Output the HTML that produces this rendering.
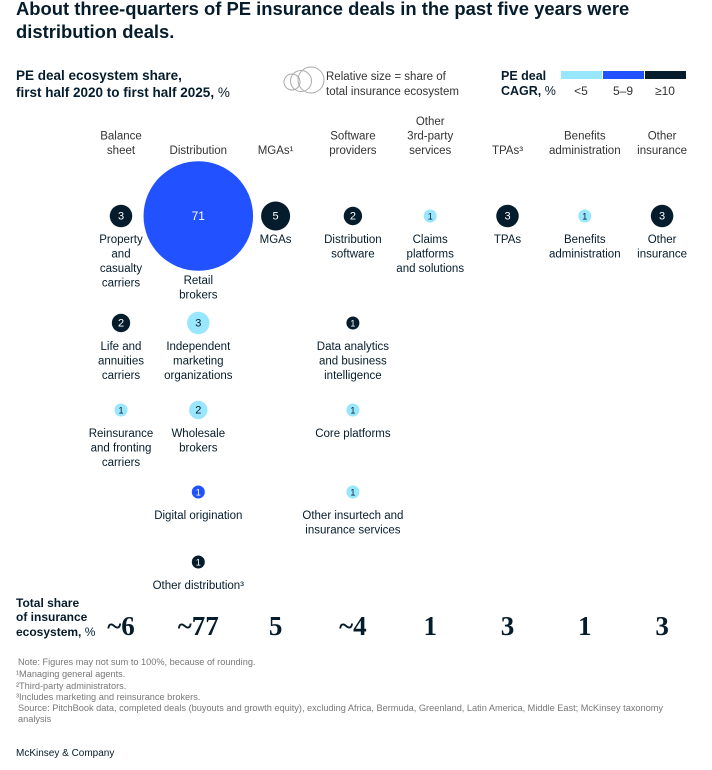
<!DOCTYPE html>
<html><head><meta charset="utf-8"><style>
body{margin:0;background:#fff;width:712px;height:765px;overflow:hidden;font-family:"Liberation Sans",sans-serif;color:#051c2c}
svg text{font-family:"Liberation Sans",sans-serif}
svg text.serif{font-family:"Liberation Serif",serif}
</style></head><body>
<svg id="c" width="712" height="765">
<text x="16" y="15" font-size="18.4" font-weight="bold" fill="#051c2c"><tspan x="16" y="15">About three-quarters of PE insurance deals in the past five years were</tspan><tspan x="16" y="38">distribution deals.</tspan></text>
<text font-size="13.5" fill="#051c2c"><tspan x="16" y="80" font-weight="bold">PE deal ecosystem share,</tspan><tspan x="16" y="97" font-weight="bold">first half 2020 to first half 2025, </tspan><tspan>%</tspan></text>
<g fill="none" stroke="#aaa">
<circle cx="292" cy="82" r="8"/><circle cx="301" cy="81" r="10.5"/><circle cx="311" cy="80" r="13"/>
</g>
<text font-size="11.5" fill="#333"><tspan x="326" y="80">Relative size = share of</tspan><tspan x="326" y="95">total insurance ecosystem</tspan></text>
<text font-size="12.5" fill="#051c2c"><tspan x="501" y="80" font-weight="bold">PE deal</tspan><tspan x="501" y="95" font-weight="bold">CAGR, </tspan><tspan>%</tspan></text>
<g id="legend"></g>
<g id="heads"></g><g id="nodes"></g><g id="totals"></g>
<text font-size="12" font-weight="bold" fill="#051c2c"><tspan x="16" y="607">Total share</tspan><tspan x="16" y="621">of insurance</tspan><tspan x="16" y="636">ecosystem, </tspan><tspan font-weight="normal">%</tspan></text>
<g font-size="9.2" fill="#777">
<text x="18" y="665">Note: Figures may not sum to 100%, because of rounding.</text>
<text x="16" y="677">¹Managing general agents.</text>
<text x="16" y="689">²Third-party administrators.</text>
<text x="16" y="700">³Includes marketing and reinsurance brokers.</text>
<text x="18" y="711">Source: PitchBook data, completed deals (buyouts and growth equity), excluding Africa, Bermuda, Greenland, Latin America, Middle East; McKinsey taxonomy</text>
<text x="18" y="722">analysis</text>
</g>
<text x="16" y="756" font-size="10" fill="#051c2c">McKinsey &amp; Company</text>
</svg>
<script>
const columns=[["Balance","sheet"],["Distribution"],["MGAs¹"],["Software","providers"],["Other","3rd-party","services"],["TPAs³"],["Benefits","administration"],["Other","insurance"]];
const totals=["~6","~77","5","~4","1","3","1","3"];
const nodeCols=[0,1,2,3,4,5,6,7,0,1,3,0,1,3,1,3,1];
const nodeRows=[0,0,0,0,0,0,0,0,1,1,1,2,2,2,3,3,4];
const nodeValues=[3,71,5,2,1,3,1,3,2,3,1,1,2,1,1,1,1];
const nodeCagr=[2,1,2,2,0,2,0,2,2,0,2,0,0,0,1,0,2];
const nodeLabels=[["Property","and","casualty","carriers"],["Retail","brokers"],["MGAs"],["Distribution","software"],["Claims","platforms","and solutions"],["TPAs"],["Benefits","administration"],["Other","insurance"],["Life and","annuities","carriers"],["Independent","marketing","organizations"],["Data analytics","and business","intelligence"],["Reinsurance","and fronting","carriers"],["Wholesale","brokers"],["Core platforms"],["Digital origination"],["Other insurtech and","insurance services"],["Other distribution³"]];
const cagrLabels=["<5","5–9","≥10"];
const colors=["#99e6ff","#2251ff","#051c2c"];
const NS="http://www.w3.org/2000/svg";
const xCol=i=>121+i*77.3;
const yRow=[216,323,410,492,562];
const rad=v=>6.5*Math.sqrt(v);
function mk(t,a,p){const e=document.createElementNS(NS,t);for(const k in a)e.setAttribute(k,a[k]);p.appendChild(e);return e;}
const lg=document.getElementById('legend');
cagrLabels.forEach((l,i)=>{
 const r=mk('rect',{x:561+i*42,y:71,width:41,height:8,fill:colors[i]},lg);
 
 
 const t=mk('text',{x:581+i*42,y:95,'font-size':12,'text-anchor':'middle',fill:'#333'},lg);t.textContent=l;
 
 
});
const hg=document.getElementById('heads');
columns.forEach((c,i)=>{
 const t=mk('text',{'font-size':11.5,'text-anchor':'middle',fill:'#333'},hg);
 
 
 c.forEach((l,j)=>{const s=mk('tspan',{x:xCol(i),y:154-(c.length-1-j)*14.5},t);s.textContent=l;});
 const tt=mk('text',{x:xCol(i),y:635,'font-size':27,'font-weight':'bold','text-anchor':'middle',fill:'#051c2c','class':'serif'},document.getElementById('totals'));
 tt.textContent=totals[i];
 
 
});
const ng=document.getElementById('nodes');
nodeValues.forEach((v,i)=>{
 const cx=xCol(nodeCols[i]),cy=yRow[nodeRows[i]],r=rad(v);
 const g=mk('g',{},ng);
 
 
 mk('circle',{cx,cy,r,fill:colors[nodeCagr[i]]},g);
 const t=mk('text',{x:cx,y:cy+(v>10?4:3.5),'font-size':v>10?12:(v==1?9:11),'text-anchor':'middle',fill:nodeCagr[i]==0?'#051c2c':'#fff'},g);t.textContent=v;
 const ly=v>10?cy+r+13:cy+27;
 const lt=mk('text',{'font-size':11.5,'text-anchor':'middle',fill:'#051c2c'},g);
 nodeLabels[i].forEach((l,j)=>{const s=mk('tspan',{x:cx,y:ly+j*14.5},lt);s.textContent=l;});
});
</script>
</body></html>
